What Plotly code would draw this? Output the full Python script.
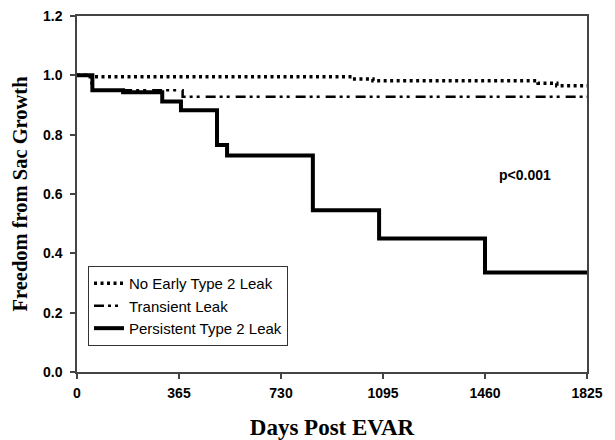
import plotly.graph_objects as go

# Kaplan-Meier step data (days, survival)
no_early_days = [0, 30, 984, 1059, 1650, 1717, 1825]
no_early_surv = [1.0, 0.995, 0.988, 0.982, 0.973, 0.965, 0.965]

transient_days = [0, 52, 378, 1825]
transient_surv = [1.0, 0.95, 0.928, 0.928]

persistent_days = [0, 55, 165, 305, 372, 501, 537, 844, 1081, 1460, 1825]
persistent_surv = [1.0, 0.95, 0.943, 0.912, 0.882, 0.765, 0.73, 0.545, 0.45, 0.335, 0.335]

x_ticks = [0, 365, 730, 1095, 1460, 1825]
y_ticks = [0.0, 0.2, 0.4, 0.6, 0.8, 1.0, 1.2]

fig = go.Figure()
fig.add_trace(go.Scatter(x=no_early_days, y=no_early_surv, mode="lines", line_shape="hv",
                         name="No Early Type 2 Leak",
                         line=dict(color="black", width=3.5, dash="3px,3.5px")))
fig.add_trace(go.Scatter(x=transient_days, y=transient_surv, mode="lines", line_shape="hv",
                         name="Transient Leak",
                         line=dict(color="black", width=2.5, dash="10px,4px,3px,4px,3px,6px")))
fig.add_trace(go.Scatter(x=persistent_days, y=persistent_surv, mode="lines", line_shape="hv",
                         name="Persistent Type 2 Leak",
                         line=dict(color="black", width=4)))

fig.add_annotation(x=1603, y=0.664, text="p<0.001", showarrow=False,
                   font=dict(family="Liberation Sans, Arial", size=14, color="black", weight="bold"))

axis_common = dict(showgrid=False, zeroline=False, showline=True, linecolor="#444", linewidth=1.5,
                   mirror=True, ticks="outside", ticklen=5, tickwidth=1.5, tickcolor="#444",
                   tickfont=dict(family="Liberation Sans, Arial", size=14, color="black", weight="bold"))

fig.update_xaxes(range=[0, 1825], tickvals=x_ticks, ticktext=[str(v) for v in x_ticks],
                 ticklabelstandoff=2,
                 title=dict(text="Days Post EVAR", standoff=20,
                            font=dict(family="Liberation Serif, Times New Roman", size=23,
                                      color="black", weight="bold")),
                 automargin=False, **axis_common)
fig.update_yaxes(range=[0, 1.2], tickvals=y_ticks, ticktext=[f"{v:.1f}" for v in y_ticks],
                 ticklabelstandoff=5,
                 title=dict(text="Freedom from Sac Growth", standoff=10,
                            font=dict(family="Liberation Serif, Times New Roman", size=20.5,
                                      color="black", weight="bold")),
                 automargin=False, **axis_common)

fig.update_layout(
    width=615, height=440,
    margin=dict(l=77, r=28, t=16, b=68),
    plot_bgcolor="white", paper_bgcolor="white",
    showlegend=True,
    legend=dict(x=0.0216, y=0.298, xanchor="left", yanchor="top",
                bgcolor="white", bordercolor="#333", borderwidth=1,
                font=dict(family="Liberation Sans, Arial", size=15, color="black"),
                tracegroupgap=0),
)

fig.write_html("out.html", config={"displayModeBar": False},
               post_script="document.body.style.margin='0';")
